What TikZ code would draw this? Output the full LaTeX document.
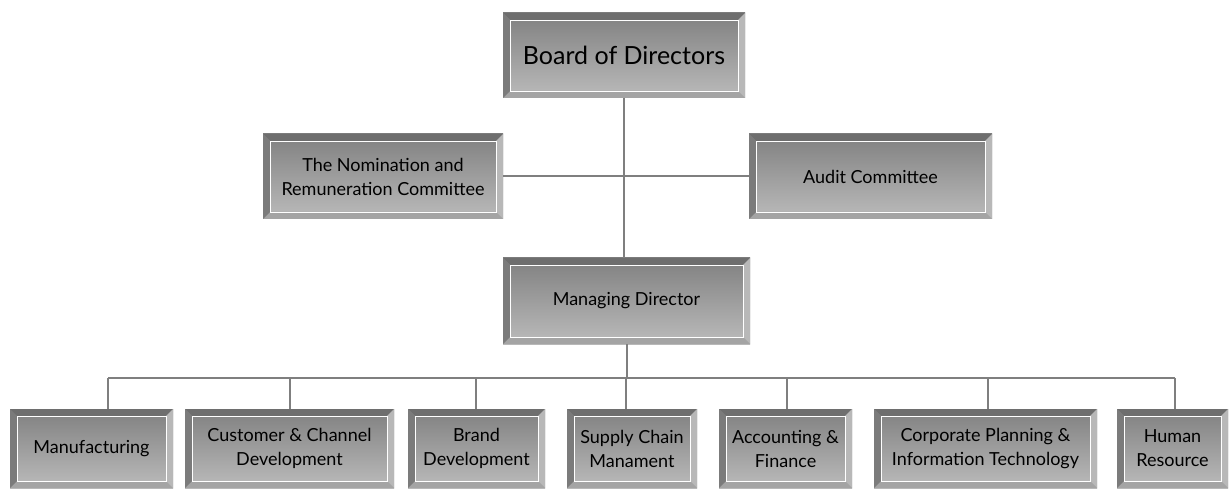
\documentclass[tikz,border=0pt]{standalone}
\usepackage{fontspec}
\setmainfont{Lato}
\usetikzlibrary{positioning}
\definecolor{facetop}{HTML}{808080}
\definecolor{facebot}{HTML}{BBBBBB}
\definecolor{bvtop}{HTML}{6E6E6E}
\definecolor{bvleft}{HTML}{7B7B7B}
\definecolor{bvright}{HTML}{B8B8B8}
\definecolor{bvbot}{HTML}{A4A4A4}
\definecolor{linkgray}{HTML}{7F7F7F}
\newcommand\bevelfaces[1]{% bevel width
  \coordinate (o1) at (path picture bounding box.north west);
  \coordinate (o2) at (path picture bounding box.north east);
  \coordinate (o3) at (path picture bounding box.south east);
  \coordinate (o4) at (path picture bounding box.south west);
  \coordinate (i1) at ([shift={(#1,-#1)}]o1);
  \coordinate (i2) at ([shift={(-#1,-#1)}]o2);
  \coordinate (i3) at ([shift={(-#1,#1)}]o3);
  \coordinate (i4) at ([shift={(#1,#1)}]o4);
  \fill[bvtop] (o1) -- (o2) -- (i2) -- (i1) -- cycle;
  \fill[bvright] (o2) -- (o3) -- (i3) -- (i2) -- cycle;
  \fill[bvbot] (o3) -- (o4) -- (i4) -- (i3) -- cycle;
  \fill[bvleft] (o4) -- (o1) -- (i1) -- (i4) -- cycle;
  \draw[white, line width=0.8pt] (i1) rectangle (i3);
}

\begin{document}
\begin{tikzpicture}[x=1pt,y=-1pt,
    bevel/.style={rectangle, inner sep=0pt, outer sep=0pt, align=center,
      top color=facetop, bottom color=facebot,
      font=\fontsize{18}{24}\selectfont,
      path picture={\bevelfaces{7pt}}},
    link/.style={draw=linkgray, line width=2pt}]
  \useasboundingbox (0,0) rectangle (1229,489);

  % top of the chart
  \node[bevel, minimum width=242pt, minimum height=85pt,
    font=\fontsize{25}{30}\selectfont] (board) at (624,55.5) {Board of Directors};
  \node[bevel, minimum width=240pt, minimum height=85pt] (nomin) at (383,176.5)
    {The Nomination and\\Remuneration Committee};
  \node[bevel, minimum width=243pt, minimum height=85pt] (audit) at (870.5,176.5)
    {Audit Committee};
  \node[bevel, minimum width=247pt, minimum height=86pt] (md) at (626.5,301)
    {Managing Director};

  % departments
  \node[bevel, minimum width=163pt, minimum height=79pt] (mfg) at (91.5,448.5) {Manufacturing};
  \node[bevel, minimum width=209pt, minimum height=79pt] (cust) at (289.5,448.5) {Customer \& Channel\\Development};
  \node[bevel, minimum width=137pt, minimum height=79pt] (brand) at (476.5,448.5) {Brand\\Development};
  \node[bevel, minimum width=130pt, minimum height=79pt] (supply) at (632,448.5) {Supply Chain\\Manament};
  \node[bevel, minimum width=133pt, minimum height=79pt] (acct) at (785.5,448.5) {Accounting \&\\Finance};
  \node[bevel, minimum width=223pt, minimum height=79pt] (corp) at (985.5,448.5) {Corporate Planning \&\\Information Technology};
  \node[bevel, minimum width=111pt, minimum height=79pt] (hr) at (1172.5,448.5) {Human\\Resource};

  % connectors
  \draw[link] (board.south) -- (board.south |- md.north);
  \draw[link] (nomin.east) -- (audit.west);
  \coordinate (busl) at (108,378);
  \coordinate (busr) at (1175,378);
  \draw[link] (md.south) -- (md.south |- busl);
  \draw[link] (busl) -- (busr);
  \foreach \x/\n in {108/mfg, 290/cust, 476/brand, 626/supply, 787/acct, 988/corp, 1175/hr}
    \draw[link] (\x,378) -- (\x,378 |- \n.north);
\end{tikzpicture}
\end{document}
